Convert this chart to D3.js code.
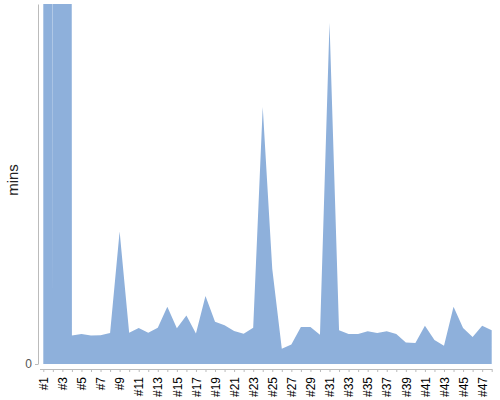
<!DOCTYPE html>
<html>
<head>
<meta charset="utf-8">
<script src="https://cdn.jsdelivr.net/npm/d3@7"></script>
<style>
  body { margin: 0; background: #fff; }
  svg { display: block; font-family: "Liberation Sans", Arial, sans-serif; }
</style>
</head>
<body>
<svg id="chart" width="500" height="400"></svg>
<script>
// runs #1..#48, minutes per run
var labels = d3.range(1, 49).map(function (i) { return "#" + i; });
var values = [5000, 15.6, 5000, 7.9, 8.3, 7.9, 8.0, 8.6, 36.8, 8.7,
  10.0, 8.7, 10.1, 15.9, 9.9, 13.5, 8.5, 18.9, 11.75, 10.75,
  9.2, 8.4, 10.1, 71.4, 26.4, 4.25, 5.4, 10.3, 10.3, 8.1,
  94.8, 9.4, 8.3, 8.3, 9.1, 8.6, 9.1, 8.3, 6.0, 5.8,
  10.6, 6.7, 5.1, 15.9, 10.0, 7.5, 10.6, 9.4];
var yTicks = [0];

var svg = d3.select("#chart");

var x = d3.scalePoint()
  .domain(labels)
  .range([43.3, 491.7]);

var y = d3.scaleLinear()
  .domain([0, 100])
  .range([364, 4]);

var data = labels.map(function (d, i) { return { label: d, value: values[i] }; });

var area = d3.area()
  .x(function (d) { return x(d.label); })
  .y0(y(0))
  .y1(function (d) { return y(d.value); });

svg.append("defs").append("clipPath")
  .attr("id", "clip")
  .append("rect")
  .attr("x", 38)
  .attr("y", y(100))
  .attr("width", 460)
  .attr("height", y(0) - y(100));

svg.append("g")
  .attr("clip-path", "url(#clip)")
  .append("path")
  .datum(data)
  .attr("d", area)
  .attr("fill", "#8eb0db");

// y axis
var yAxis = svg.append("g")
  .attr("transform", "translate(38,0)")
  .call(d3.axisLeft(y).tickValues(yTicks).tickSize(3).tickSizeOuter(0));
yAxis.select(".domain").attr("stroke", "#bbb");
yAxis.selectAll(".tick line").attr("stroke", "#bbb");
yAxis.selectAll(".tick text")
  .attr("fill", "#555")
  .attr("font-size", 12)
  .attr("x", -6);

// x axis
var xAxis = svg.append("g")
  .attr("transform", "translate(0,369)")
  .call(d3.axisBottom(x)
    .tickSize(3)
    .tickSizeOuter(0)
    .tickFormat(function (d, i) { return i % 2 === 0 ? d : ""; }));
xAxis.select(".domain").attr("stroke", "#bbb").attr("d", "M40,0.5H492");
xAxis.selectAll(".tick line").attr("stroke", "#bbb");
xAxis.selectAll(".tick text")
  .attr("fill", "#000")
  .attr("font-size", 12)
  .attr("text-anchor", "end")
  .attr("transform", "rotate(-90)")
  .attr("x", -8)
  .attr("y", 0)
  .attr("dy", "0.35em");

svg.append("text")
  .attr("transform", "translate(18,180) rotate(-90)")
  .attr("text-anchor", "middle")
  .attr("font-size", 15)
  .attr("fill", "#222")
  .text("mins");
</script>
</body>
</html>
